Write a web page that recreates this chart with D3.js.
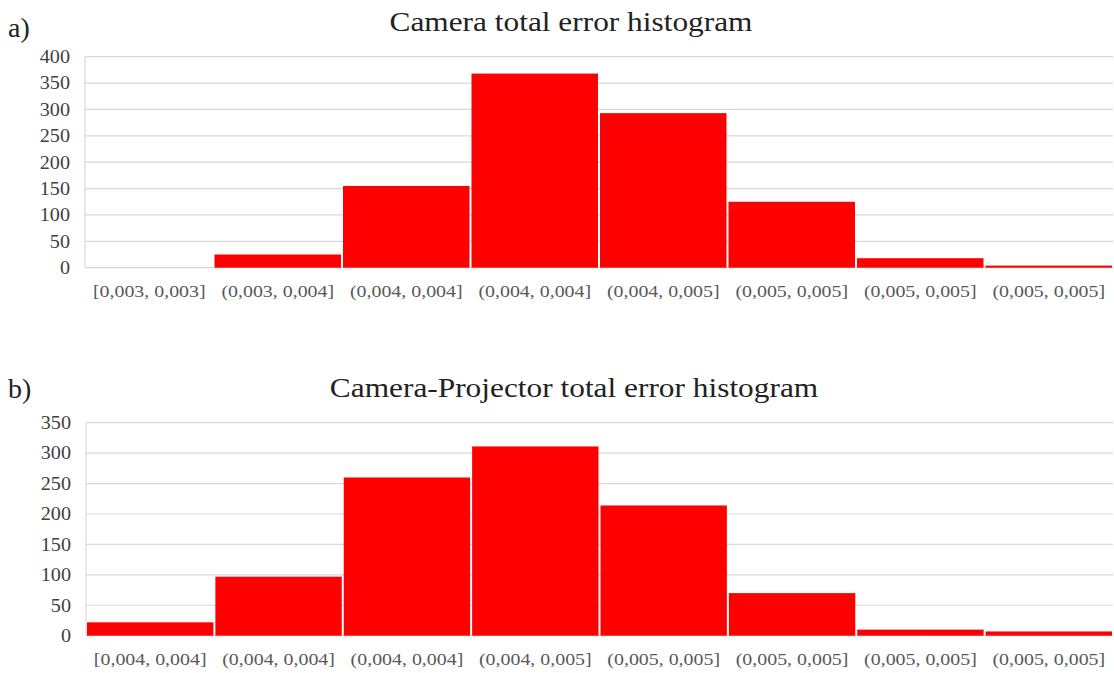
<!DOCTYPE html>
<html><head><meta charset="utf-8">
<script src="https://cdn.jsdelivr.net/npm/d3@7"></script>
<style>body{margin:0;background:#fff}svg{display:block}</style>
</head><body>
<svg id="c" width="1114" height="673"></svg>
<script>
const catsA = ["[0,003, 0,003]","(0,003, 0,004]","(0,004, 0,004]","(0,004, 0,004]","(0,004, 0,005]","(0,005, 0,005]","(0,005, 0,005]","(0,005, 0,005]"];
const valsA = [0, 25, 155, 368, 293, 125, 18, 4];
const ticksA = [0,50,100,150,200,250,300,350,400];
const catsB = ["[0,004, 0,004]","(0,004, 0,004]","(0,004, 0,004]","(0,004, 0,005]","(0,005, 0,005]","(0,005, 0,005]","(0,005, 0,005]","(0,005, 0,005]"];
const valsB = [22, 97, 260, 311, 214, 70, 10, 7];
const ticksB = [0,50,100,150,200,250,300,350];
const titleA = "Camera total error histogram";
const titleB = "Camera-Projector total error histogram";

const svg = d3.select("#c");
const serif = "'Liberation Serif','Times New Roman',serif";

function panel(o){
  const g = svg.append("g");
  const x = d3.scaleBand().domain(d3.range(o.cats.length)).range([o.left, o.right]).paddingInner(0);
  const y = d3.scaleLinear().domain([0, d3.max(o.ticks)]).range([o.bottom, o.top]);
  g.append("g").selectAll("line").data(o.ticks).join("line")
    .attr("x1", o.left).attr("x2", o.right)
    .attr("y1", d=>y(d)).attr("y2", d=>y(d))
    .attr("stroke", "#d9d9d9").attr("stroke-width", 1.2);
  g.append("line").attr("x1", o.left).attr("x2", o.left).attr("y1", y(d3.max(o.ticks))).attr("y2", y(0))
    .attr("stroke","#d9d9d9").attr("stroke-width",1.2);
  g.append("g").selectAll("rect").data(o.vals).join("rect")
    .attr("x", (d,i)=>x(i)+1).attr("width", x.bandwidth()-2)
    .attr("y", d=>y(d)).attr("height", d=>y(0)-y(d))
    .attr("fill", "#ff0000");
  g.append("g").selectAll("text").data(o.ticks).join("text")
    .attr("transform", d=>`translate(${o.left-15},${y(d)}) scale(1.12,1)`).attr("dy","0.35em")
    .attr("text-anchor","end").attr("font-family", serif).attr("font-size", 18)
    .attr("fill","#404040").text(d=>d);
  g.append("g").selectAll("text").data(o.cats).join("text")
    .attr("transform",(d,i)=>`translate(${x(i)+x.bandwidth()/2},${o.bottom+29}) scale(1.17,1)`)
    .attr("text-anchor","middle").attr("font-family", serif).attr("font-size", 17)
    .attr("fill","#595959").text(d=>d);
  g.append("text").attr("transform",`translate(${o.tx},${o.ty}) scale(1.12,1)`)
    .attr("text-anchor","middle").attr("font-family", serif).attr("font-size", 28)
    .attr("fill","#222").text(o.title);
  g.append("text").attr("x", 8).attr("y", o.ly)
    .attr("font-family", serif).attr("font-size", 28).attr("fill","#222").text(o.label);
}

panel({cats:catsA, vals:valsA, ticks:ticksA, left:85, right:1113, top:56.7, bottom:267.7,
  title:titleA, tx:571, ty:31, label:"a)", ly:37});
panel({cats:catsB, vals:valsB, ticks:ticksB, left:86, right:1113, top:422.7, bottom:635.7,
  title:titleB, tx:574, ty:397, label:"b)", ly:398});
</script>
</body></html>
